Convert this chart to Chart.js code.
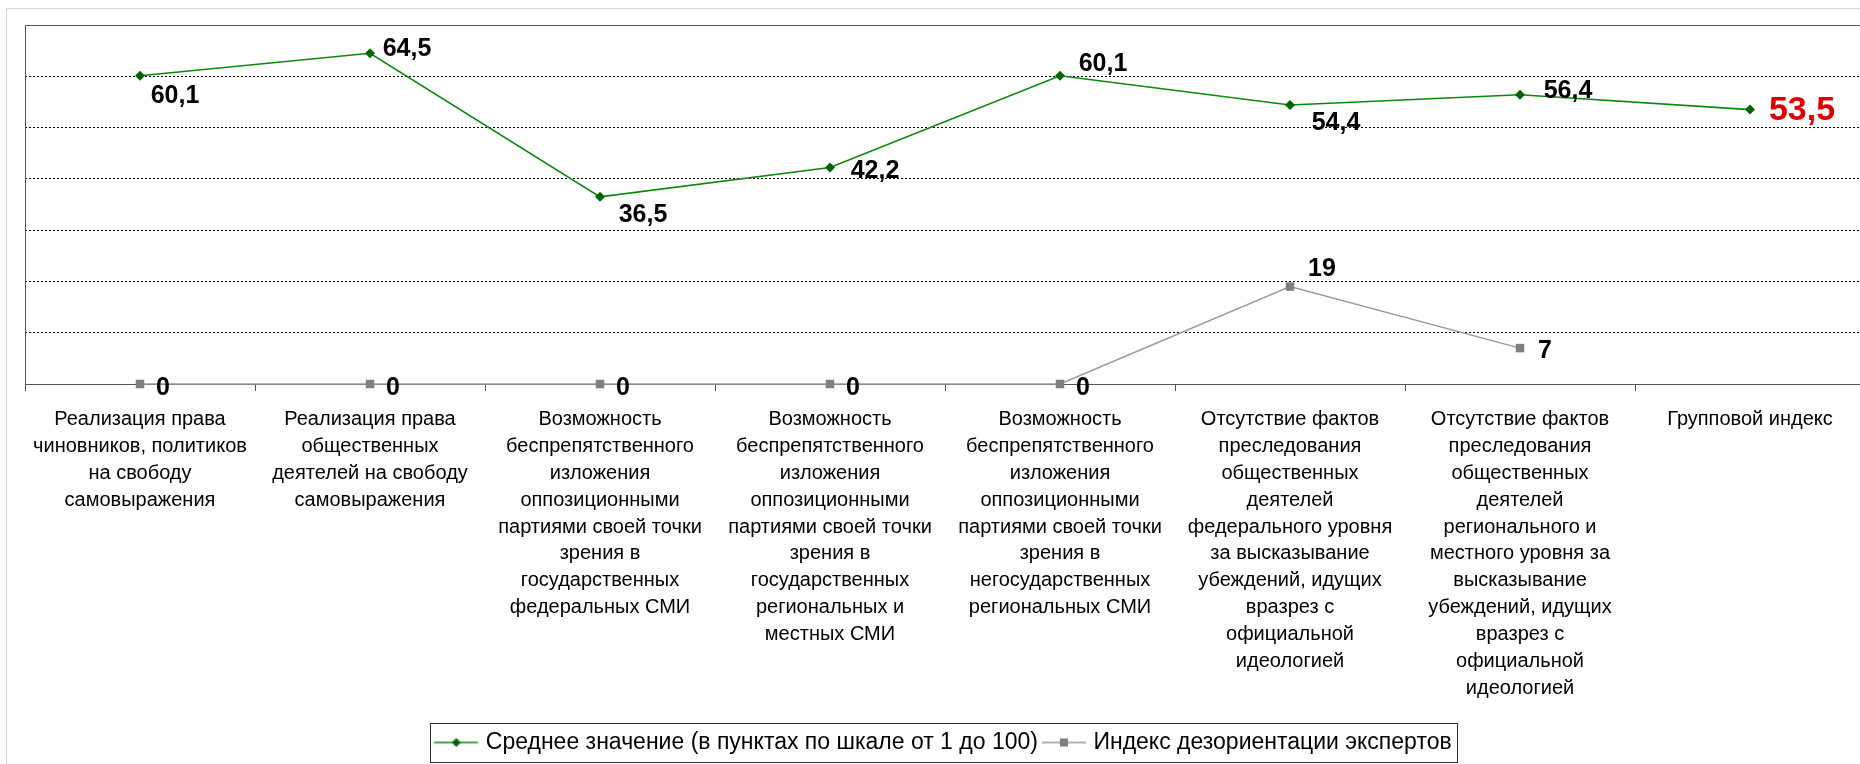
<!DOCTYPE html>
<html>
<head>
<meta charset="utf-8">
<script src="https://cdn.jsdelivr.net/npm/chart.js@4.4.1/dist/chart.umd.min.js"></script>
<style>
    html, body { margin: 0; padding: 0; background: #fff; overflow: hidden; }
    #wrap { position: relative; width: 1860px; height: 764px; overflow: hidden; }
    #frame { position: absolute; left: 6px; top: 8px; width: 1900px; height: 800px; border: 1px solid #d4d4d4; }
    #chart { position: absolute; left: 0; top: 0; }
</style>
</head>
<body>
<div id="wrap">
    <div id="frame"></div>
    <canvas id="chart" width="1888" height="764"></canvas>
</div>
<script>
// Categories (x axis), already broken into lines as in the original
const categories = [
    ['Реализация права', 'чиновников, политиков', 'на свободу', 'самовыражения'],
    ['Реализация права', 'общественных', 'деятелей на свободу', 'самовыражения'],
    ['Возможность', 'беспрепятственного', 'изложения', 'оппозиционными', 'партиями своей точки', 'зрения в', 'государственных', 'федеральных СМИ'],
    ['Возможность', 'беспрепятственного', 'изложения', 'оппозиционными', 'партиями своей точки', 'зрения в', 'государственных', 'региональных и', 'местных СМИ'],
    ['Возможность', 'беспрепятственного', 'изложения', 'оппозиционными', 'партиями своей точки', 'зрения в', 'негосударственных', 'региональных СМИ'],
    ['Отсутствие фактов', 'преследования', 'общественных', 'деятелей', 'федерального уровня', 'за высказывание', 'убеждений, идущих', 'вразрез с', 'официальной', 'идеологией'],
    ['Отсутствие фактов', 'преследования', 'общественных', 'деятелей', 'регионального и', 'местного уровня за', 'высказывание', 'убеждений, идущих', 'вразрез с', 'официальной', 'идеологией'],
    ['Групповой индекс']
];

// Series values
const meanLabel = 'Среднее значение (в пунктах по шкале от 1 до 100)';
const meanValues = [60.1, 64.5, 36.5, 42.2, 60.1, 54.4, 56.4, 53.5];

const disorientLabel = 'Индекс дезориентации экспертов';
const disorientValues = [0, 0, 0, 0, 0, 19, 7, null];

// Value axis (ticks hidden, only dotted gridlines)
const yMin = 0;
const yMax = 70;
const yStep = 10;

// Where each value label sits relative to its point (text centre offset, px)
const meanLabelOffsets = [[35, 20], [37, -4], [43, 18], [45, 4], [43, -12], [46, 18], [48, -4], [52, 1]];
const disorientLabelOffsets = [[23, 4], [23, 4], [23, 4], [23, 4], [23, 4], [32, -17], [25, 3], [0, 0]];

const fontFamily = 'Arial, "Liberation Sans", sans-serif';
const green = '#0a880a';
const greenDark = '#006400';
const grey = '#9a9a9a';
const greyDark = '#808080';

// Small canvases used as legend symbols (line with marker)
function makeLegendIcon(lineColor, markColor, shape) {
    const c = document.createElement('canvas');
    c.width = 44;
    c.height = 14;
    const g = c.getContext('2d');
    g.strokeStyle = lineColor;
    g.lineWidth = 1.5;
    g.beginPath();
    g.moveTo(0, 7);
    g.lineTo(44, 7);
    g.stroke();
    g.fillStyle = markColor;
    if (shape === 'diamond') {
        g.beginPath();
        g.moveTo(22, 2.5);
        g.lineTo(26.5, 7);
        g.lineTo(22, 11.5);
        g.lineTo(17.5, 7);
        g.closePath();
        g.fill();
    } else {
        g.fillRect(18, 3, 8, 8);
    }
    return c;
}

const legendIcons = [
    makeLegendIcon(green, greenDark, 'diamond'),
    makeLegendIcon(grey, greyDark, 'square')
];

function formatValue(v) {
    return Number.isInteger(v) ? String(v) : v.toFixed(1).replace('.', ',');
}

// Solid frame round the plot area
const plotFrame = {
    id: 'plotFrame',
    beforeDatasetsDraw(chart) {
        const { ctx, chartArea } = chart;
        ctx.save();
        ctx.strokeStyle = '#555';
        ctx.lineWidth = 1;
        ctx.strokeRect(chartArea.left + 0.5, chartArea.top + 0.5,
            chartArea.right - chartArea.left, chartArea.bottom - chartArea.top);
        ctx.restore();
    }
};

// Value labels next to the points
const valueLabels = {
    id: 'valueLabels',
    afterDatasetsDraw(chart) {
        const ctx = chart.ctx;
        const offsets = [meanLabelOffsets, disorientLabelOffsets];
        ctx.save();
        ctx.textAlign = 'center';
        ctx.textBaseline = 'middle';
        chart.data.datasets.forEach((ds, di) => {
            const meta = chart.getDatasetMeta(di);
            meta.data.forEach((pt, i) => {
                const v = ds.data[i];
                if (v === null || v === undefined) return;
                const isTotal = di === 0 && i === ds.data.length - 1;
                ctx.font = 'bold ' + (isTotal ? 34 : 25) + 'px ' + fontFamily;
                ctx.fillStyle = isTotal ? '#e00000' : '#000';
                const off = offsets[di][i];
                ctx.fillText(formatValue(v), pt.x + off[0], pt.y + off[1]);
            });
        });
        ctx.restore();
    }
};

// Thin box round the legend
const legendBox = {
    id: 'legendBox',
    afterDraw(chart) {
        const boxes = chart.legend.legendHitBoxes;
        if (!boxes || !boxes.length) return;
        const left = Math.min(...boxes.map(b => b.left)) - 8;
        const right = Math.max(...boxes.map(b => b.left + b.width)) + 6;
        const top = Math.min(...boxes.map(b => b.top)) - 8;
        const bottom = Math.max(...boxes.map(b => b.top + b.height)) + 8;
        const ctx = chart.ctx;
        ctx.save();
        ctx.strokeStyle = '#333';
        ctx.lineWidth = 1;
        ctx.strokeRect(Math.round(left) + 0.5, Math.round(top) + 0.5, Math.round(right - left), Math.round(bottom - top));
        ctx.restore();
    }
};

const ctx = document.getElementById('chart').getContext('2d');
const chart = new Chart(ctx, {
    type: 'line',
    data: {
        labels: categories,
        datasets: [
            {
                label: meanLabel,
                data: meanValues,
                borderColor: green,
                borderWidth: 1.6,
                pointStyle: 'rectRot',
                pointRadius: 5,
                pointBackgroundColor: greenDark,
                pointBorderWidth: 0,
                tension: 0,
                clip: false
            },
            {
                label: disorientLabel,
                data: disorientValues,
                borderColor: grey,
                borderWidth: 1.5,
                pointStyle: 'rect',
                pointRadius: 6,
                pointBackgroundColor: greyDark,
                pointBorderWidth: 0,
                tension: 0,
                clip: false,
                spanGaps: false
            }
        ]
    },
    options: {
        responsive: false,
        animation: false,
        events: [],
        layout: {
            padding: { left: 25, right: 23, top: 25, bottom: 0 }
        },
        scales: {
            x: {
                offset: true,
                grid: {
                    offset: true,
                    drawOnChartArea: false,
                    drawTicks: true,
                    tickLength: 7,
                    tickColor: '#555'
                },
                border: { display: false },
                ticks: {
                    autoSkip: false,
                    maxRotation: 0,
                    minRotation: 0,
                    padding: 15,
                    color: '#000',
                    font: { family: fontFamily, size: 20, lineHeight: 1.345 }
                },
                afterFit(scale) {
                    scale.height = 339;
                }
            },
            y: {
                min: yMin,
                max: yMax,
                ticks: { display: false, stepSize: yStep },
                grid: {
                    drawTicks: false,
                    lineWidth: 1,
                    color: (c) => (c.tick && (c.tick.value === yMin || c.tick.value === yMax)) ? 'rgba(0,0,0,0)' : '#000'
                },
                border: { display: false, dash: [2, 2] },
                afterFit(scale) {
                    scale.width = 0;
                }
            }
        },
        plugins: {
            legend: {
                position: 'bottom',
                labels: {
                    usePointStyle: true,
                    pointStyleWidth: 36,
                    padding: 8,
                    color: '#000',
                    font: { family: fontFamily, size: 23 },
                    generateLabels(chart) {
                        return chart.data.datasets.map((ds, i) => ({
                            text: ds.label,
                            pointStyle: legendIcons[i],
                            fillStyle: ds.borderColor,
                            strokeStyle: ds.borderColor,
                            lineWidth: 0,
                            hidden: false,
                            datasetIndex: i,
                            fontColor: '#000'
                        }));
                    }
                }
            },
            tooltip: { enabled: false },
            title: { display: false }
        }
    },
    plugins: [plotFrame, valueLabels, legendBox]
});
</script>
</body>
</html>
